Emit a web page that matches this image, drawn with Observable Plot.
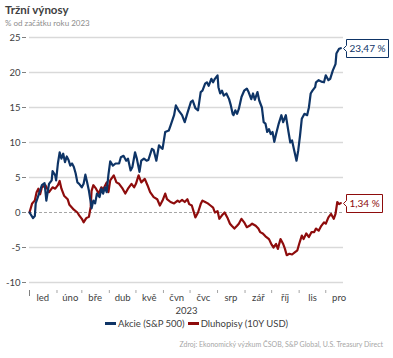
<!DOCTYPE html>
<html><head><meta charset="utf-8">
<script src="https://cdn.jsdelivr.net/npm/d3@7"></script>
<script src="https://cdn.jsdelivr.net/npm/@observablehq/plot@0.6"></script>
<style>
body{margin:0;background:#fff;font-family:Lato,"Noto Sans",sans-serif;}
#wrap{position:relative;width:393px;height:358px;overflow:hidden;background:#fff}
#wrap svg{position:absolute;left:0;top:0}
.t{position:absolute;white-space:nowrap}
.sw{display:inline-block;width:11px;height:2.5px;vertical-align:middle;margin:0 2px 0 0;position:relative;top:-1px}
</style></head><body>
<div id="wrap">
  <div id="chart"></div>
  <div class="t" style="left:5px;top:3px;font-weight:700;font-size:11.5px;color:#404040">Tržní výnosy</div>
  <div class="t" style="left:5px;top:18px;font-size:8px;color:#8c8c8c">% od začátku roku 2023</div>
  <div class="t" id="legend" style="left:0;width:393px;top:318px;text-align:center;font-size:9.5px;color:#404040"></div>
  <div class="t" style="right:10px;top:340px;font-size:7px;color:#a6a6a6">Zdroj: Ekonomický výzkum ČSOB, S&amp;P Global, U.S. Treasury Direct</div>
</div>
<script>
const seriesNames = ["Akcie (S&P 500)", "Dluhopisy (10Y USD)"];
const seriesColors = ["#0e3466", "#8e0c0c"];
const monthLabels = ["led","úno","bře","dub","kvě","čvn","čvc","srp","zář","říj","lis","pro"];
const yTicks = [-10,-5,0,5,10,15,20,25];
// [day offset from 1 Jan 2023, % return since start of 2023]
const akcie = [[0,0],[4,-0.8],[6,-0.5],[7,1.3],[10,2.4],[14,3.9],[17,4.2],[19,1.7],[22,4.1],[25,4.6],[26,5.9],[29,5.3],[30,4.6],[32,7.0],[34,8.6],[36,7.7],[38,8.4],[40,7.2],[42,8.0],[44,7.5],[46,6.7],[48,7.0],[50,6.5],[52,5.6],[54,4.3],[56,4.1],[59,3.6],[61,4.1],[63,5.4],[65,4.3],[67,3.1],[69,1.5],[70,0.6],[72,1.7],[74,1.3],[76,2.7],[79,2.2],[81,3.4],[83,2.7],[85,3.6],[87,2.9],[89,5.4],[91,7.3],[94,6.7],[97,7.0],[101,7.0],[103,7.9],[106,8.1],[109,7.4],[111,7.7],[114,6.0],[116,6.5],[119,8.6],[121,7.7],[124,5.8],[126,7.4],[129,7.7],[132,7.4],[134,7.5],[138,9.1],[140,8.9],[143,7.4],[146,9.6],[148,9.3],[150,9.1],[153,11.5],[157,11.7],[159,12.4],[163,13.9],[165,15.3],[168,14.6],[172,13.9],[175,12.9],[178,14.2],[182,15.8],[184,16.0],[187,14.9],[190,14.6],[193,17.2],[195,17.4],[198,18.4],[200,18.6],[202,18.1],[205,19.1],[207,18.6],[209,19.1],[212,19.6],[213,17.9],[215,17.0],[217,17.4],[219,16.7],[222,17.0],[225,16.2],[227,15.3],[229,14.1],[230,13.9],[232,14.6],[234,14.1],[236,14.8],[239,16.5],[242,17.4],[245,17.7],[247,17.2],[250,16.2],[252,17.0],[254,16.1],[257,17.2],[259,16.0],[262,15.0],[264,12.9],[266,12.7],[268,11.5],[270,11.9],[272,11.2],[274,11.5],[276,10.1],[278,11.2],[281,12.7],[284,13.9],[286,12.9],[289,13.9],[290,13.1],[292,11.5],[294,10.0],[296,10.3],[298,9.1],[301,7.4],[303,8.9],[305,11.0],[307,13.4],[310,14.1],[313,13.9],[315,15.0],[317,17.0],[319,17.4],[322,17.9],[323,18.6],[326,18.9],[329,18.7],[332,18.6],[334,19.6],[337,18.9],[339,19.1],[342,20.3],[345,21.2],[346,22.7],[349,23.4],[351,23.47]];
const dluhopisy = [[0,0],[3,1.3],[6,1.7],[8,2.9],[10,3.4],[12,2.6],[14,3.6],[18,3.9],[22,2.9],[26,3.6],[29,3.4],[32,3.9],[34,4.5],[36,3.4],[39,2.4],[43,1.9],[45,1.1],[50,0.4],[54,0.0],[56,-0.4],[59,-0.9],[61,-1.4],[64,-0.8],[67,-0.6],[69,0.8],[70,3.1],[72,3.9],[75,3.4],[78,2.7],[81,3.6],[83,3.3],[87,4.3],[89,2.9],[91,4.6],[95,5.3],[98,4.3],[101,4.1],[105,3.4],[108,2.7],[111,3.4],[115,4.1],[118,3.6],[120,4.1],[123,5.3],[126,4.3],[130,4.8],[133,3.9],[136,2.9],[140,2.2],[144,1.9],[147,1.0],[150,1.7],[153,2.7],[155,1.9],[159,1.5],[163,1.3],[167,1.7],[169,1.5],[172,1.8],[175,1.5],[178,1.9],[180,1.2],[183,1.0],[187,-0.7],[190,0.0],[193,1.2],[195,1.7],[198,1.5],[201,1.3],[204,1.0],[207,0.7],[209,0.0],[212,0.2],[214,-0.9],[217,-0.4],[220,0.0],[223,-0.7],[226,-1.6],[228,-1.9],[231,-2.3],[234,-1.9],[236,-1.6],[239,-0.9],[242,-1.4],[245,-2.1],[248,-1.9],[251,-1.6],[255,-1.9],[258,-2.3],[260,-2.8],[263,-3.0],[266,-3.4],[270,-3.8],[273,-4.6],[275,-5.0],[278,-4.5],[280,-5.2],[283,-3.8],[286,-4.5],[288,-5.2],[290,-6.1],[293,-5.9],[296,-6.0],[299,-5.7],[302,-5.4],[304,-4.5],[307,-3.3],[309,-3.8],[312,-3.0],[315,-3.5],[318,-2.8],[321,-2.8],[323,-2.3],[326,-2.6],[329,-1.9],[332,-1.4],[334,-1.6],[337,-0.7],[340,-0.2],[343,-0.9],[345,-0.2],[347,1.5],[349,1.2],[351,1.34]];

const toDate = d => new Date(Date.UTC(2023, 0, 1 + d));
const rows = (arr, s) => arr.map(([d, v]) => ({date: toDate(d), value: v, s}));
const A = rows(akcie, 0), B = rows(dluhopisy, 1);
const lastA = [A[A.length - 1]], lastB = [B[B.length - 1]];
const fmt = v => v.toFixed(2).replace(".", ",") + " %";
const monthStarts = d3.range(12).map(m => new Date(Date.UTC(2023, m, 1)));
const monthMids = d3.range(12).map(m => new Date(Date.UTC(2023, m, 16)));

const chart = Plot.plot({
  width: 393, height: 358,
  marginTop: 37, marginBottom: 68, marginLeft: 29, marginRight: 50,
  insetBottom: 8,
  style: {fontFamily: "Lato, 'Noto Sans', sans-serif", background: "transparent"},
  x: {type: "utc", domain: [toDate(0), toDate(354)], label: null},
  y: {domain: [-10, 25], label: null},
  marks: [
    Plot.gridY(yTicks.filter(v => v !== 0), {stroke: "#d9d9d9", strokeOpacity: 1, strokeWidth: 1.3}),
    Plot.ruleY([0], {stroke: "#a6a6a6", strokeDasharray: "3,2", strokeWidth: 1}),
    Plot.axisY(yTicks, {tickSize: 4, dx: -3, tickPadding: 2, fontSize: 9.5, fill: "#404040", stroke: "#7f7f7f", tickFormat: d => String(d), label: null}),
    Plot.axisX(monthStarts, {tickSize: 3, text: null, stroke: "#a6a6a6", label: null}),
    Plot.axisX([toDate(0)], {tickSize: 6, text: null, stroke: "#7f7f7f", label: null}),
    Plot.axisX(monthMids, {tickSize: 0, tickPadding: 4, fontSize: 9.5, fill: "#404040", tickFormat: d => monthLabels[d.getUTCMonth()], label: null}),
    Plot.text(["2023"], {frameAnchor: "bottom", dy: 23, fontSize: 9.5, fill: "#404040"}),
    Plot.line(B, {x: "date", y: "value", stroke: seriesColors[1], strokeWidth: 2.2}),
    Plot.line(A, {x: "date", y: "value", stroke: seriesColors[0], strokeWidth: 2.2}),
    Plot.tip(lastA, {x: "date", y: "value", title: d => fmt(d.value), anchor: "left", dx: 3, fill: "white", stroke: seriesColors[0], strokeWidth: 1, pathFilter: "none", textPadding: 3, pointerSize: 6, fontSize: 10}),
    Plot.tip(lastB, {x: "date", y: "value", title: d => fmt(d.value), anchor: "left", dx: 3, fill: "white", stroke: seriesColors[1], strokeWidth: 1, pathFilter: "none", textPadding: 3, pointerSize: 6, fontSize: 10})
  ]
});
document.getElementById("chart").appendChild(chart);
const tips = chart.querySelectorAll('g[aria-label="tip"]');
tips.forEach((g, i) => { g.style.color = seriesColors[i]; g.querySelectorAll("text").forEach(t => t.setAttribute("fill", seriesColors[i])); });

document.getElementById("legend").innerHTML = seriesNames.map((n, i) =>
  `<span class="sw" style="background:${seriesColors[i]}"></span>${n.replace("&", "&amp;")}`).join('<span style="display:inline-block;width:3px"></span>');
</script>
</body></html>
